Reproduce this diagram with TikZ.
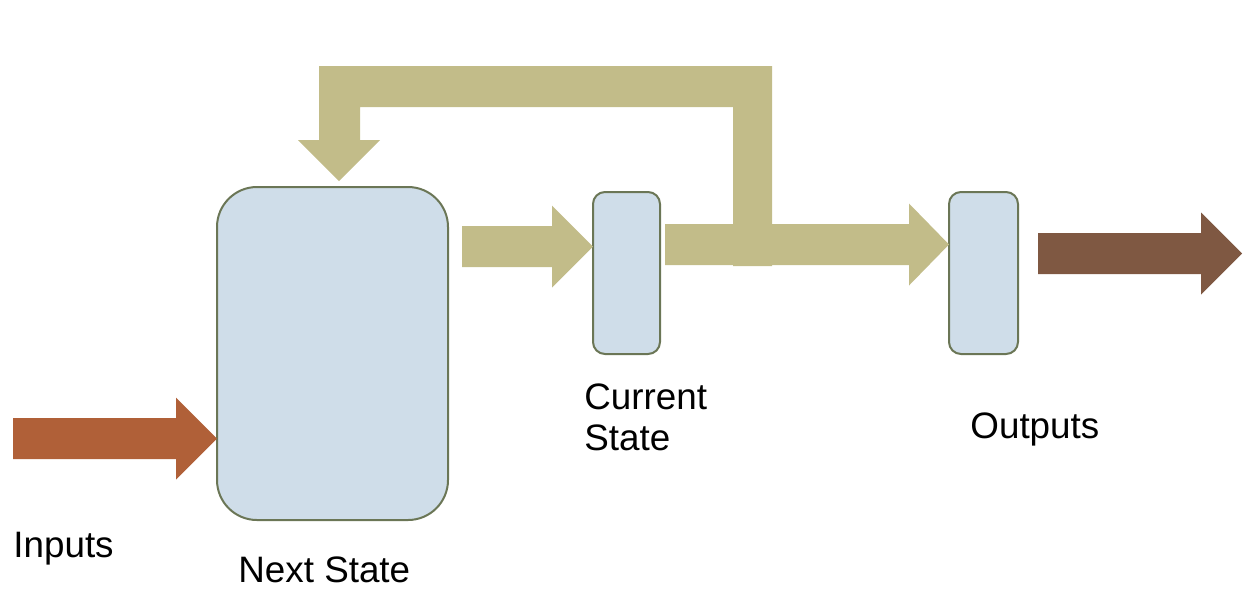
\documentclass[tikz,border=0pt]{standalone}
\usepackage{fontspec}
\setmainfont{Liberation Sans}
\definecolor{olivefill}{RGB}{194,188,137}
\definecolor{boxfill}{RGB}{207,221,233}
\definecolor{boxline}{RGB}{107,118,86}
\definecolor{infill}{RGB}{176,96,56}
\definecolor{outfill}{RGB}{127,88,66}
\tikzset{
  regbox/.style={draw=boxline, line width=1pt, fill=boxfill, inner sep=0pt},
  lbl/.style={inner sep=0pt, font=\fontsize{18.4}{20.5}\selectfont, text=black},
}
% \harrow{x0}{xbase}{xtip}{ycenter}{color}
\newcommand{\harrow}[5]{%
  \fill[#5] (#1,#4-20.5) -- (#2,#4-20.5) -- (#2,#4-41) -- (#3,#4) -- (#2,#4+41)
    -- (#2,#4+20.5) -- (#1,#4+20.5) -- cycle;}
\begin{document}
\begin{tikzpicture}[x=0.5pt,y=-0.5pt]
\useasboundingbox (0,0) rectangle (1246,596);
% boxes
\node[regbox, rounded corners=20pt, minimum width=115.5pt, minimum height=166.5pt] (next) at (332.5,353.5) {};
\node[regbox, rounded corners=6pt, minimum width=33.5pt, minimum height=81pt] (cur) at (626.5,273) {};
\node[regbox, rounded corners=6pt, minimum width=34.5pt, minimum height=81pt] (out) at (983.5,273) {};
% feedback path
\fill[olivefill] (772,66) -- (319,66) -- (319,140) -- (298,140) -- (339,181) -- (380,140)
  -- (360,140) -- (360,107) -- (733,107) -- (733,266) -- (772,266) -- cycle;
% block arrows
\harrow{13}{176}{217}{438.5}{infill}
\harrow{462}{552}{593}{246.5}{olivefill}
\harrow{665}{909}{949}{244.5}{olivefill}
\harrow{1038}{1201}{1242}{253.5}{outfill}
% labels
\node[lbl, anchor=base west] (inlab) at (13,557) {Inputs};
\node[lbl, anchor=base west] (nextlab) at (238,582) {Next State};
\node[lbl, anchor=north west, align=left] (curlab) at (584,383) {Current\\State};
\node[lbl, anchor=base west] (outlab) at (970,438) {Outputs};
\end{tikzpicture}
\end{document}
